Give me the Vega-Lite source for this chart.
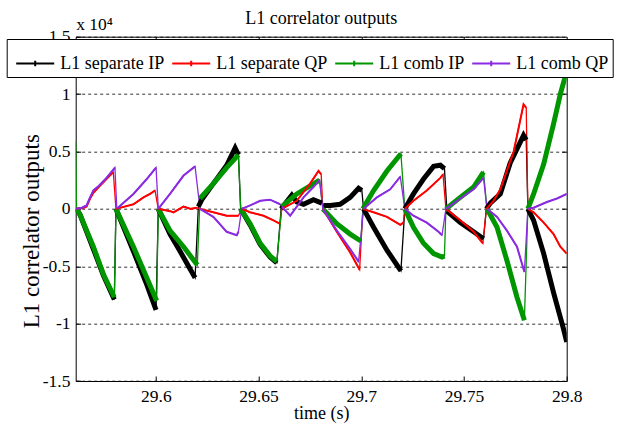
{
  "$schema": "https://vega.github.io/schema/vega-lite/v6.json",
  "width": 491,
  "height": 344.3,
  "autosize": {"type": "none"},
  "padding": {"left": 75.7, "top": 36.7, "right": 51.3, "bottom": 44},
  "background": "white",
  "title": {"text": "L1 correlator outputs", "font": "Liberation Serif", "fontSize": 18, "fontWeight": "normal", "color": "black", "anchor": "middle", "baseline": "alphabetic", "offset": 0, "dy": 26},
  "data": {"values": [
    {"series": "L1 separate IP", "seg": 0, "time": 29.5614, "value": 0},
    {"series": "L1 separate IP", "seg": 0, "time": 29.5631, "value": -0.05},
    {"series": "L1 separate IP", "seg": 0, "time": 29.5696, "value": -0.35},
    {"series": "L1 separate IP", "seg": 0, "time": 29.5745, "value": -0.58},
    {"series": "L1 separate IP", "seg": 0, "time": 29.5798, "value": -0.79},
    {"series": "L1 separate IP", "seg": 1, "time": 29.5806, "value": 0},
    {"series": "L1 separate IP", "seg": 1, "time": 29.5891, "value": -0.37},
    {"series": "L1 separate IP", "seg": 1, "time": 29.5956, "value": -0.66},
    {"series": "L1 separate IP", "seg": 1, "time": 29.6001, "value": -0.88},
    {"series": "L1 separate IP", "seg": 2, "time": 29.6012, "value": 0},
    {"series": "L1 separate IP", "seg": 2, "time": 29.6069, "value": -0.22},
    {"series": "L1 separate IP", "seg": 2, "time": 29.6118, "value": -0.37},
    {"series": "L1 separate IP", "seg": 2, "time": 29.6191, "value": -0.6},
    {"series": "L1 separate IP", "seg": 3, "time": 29.6207, "value": 0.02},
    {"series": "L1 separate IP", "seg": 3, "time": 29.6224, "value": 0.08},
    {"series": "L1 separate IP", "seg": 3, "time": 29.628, "value": 0.22},
    {"series": "L1 separate IP", "seg": 3, "time": 29.6345, "value": 0.38},
    {"series": "L1 separate IP", "seg": 3, "time": 29.6386, "value": 0.53},
    {"series": "L1 separate IP", "seg": 3, "time": 29.6402, "value": 0.47},
    {"series": "L1 separate IP", "seg": 4, "time": 29.6413, "value": 0},
    {"series": "L1 separate IP", "seg": 4, "time": 29.6459, "value": -0.14},
    {"series": "L1 separate IP", "seg": 4, "time": 29.6508, "value": -0.31},
    {"series": "L1 separate IP", "seg": 4, "time": 29.6556, "value": -0.42},
    {"series": "L1 separate IP", "seg": 4, "time": 29.6589, "value": -0.47},
    {"series": "L1 separate IP", "seg": 5, "time": 29.661, "value": 0},
    {"series": "L1 separate IP", "seg": 5, "time": 29.6662, "value": 0.12},
    {"series": "L1 separate IP", "seg": 5, "time": 29.6686, "value": 0.06},
    {"series": "L1 separate IP", "seg": 5, "time": 29.6719, "value": 0.04},
    {"series": "L1 separate IP", "seg": 5, "time": 29.6767, "value": 0.08},
    {"series": "L1 separate IP", "seg": 5, "time": 29.6808, "value": 0.05},
    {"series": "L1 separate IP", "seg": 6, "time": 29.6816, "value": 0.03},
    {"series": "L1 separate IP", "seg": 6, "time": 29.6849, "value": 0.03},
    {"series": "L1 separate IP", "seg": 6, "time": 29.6897, "value": 0.04},
    {"series": "L1 separate IP", "seg": 6, "time": 29.6946, "value": 0.1},
    {"series": "L1 separate IP", "seg": 6, "time": 29.6987, "value": 0.18},
    {"series": "L1 separate IP", "seg": 6, "time": 29.7003, "value": 0.16},
    {"series": "L1 separate IP", "seg": 7, "time": 29.7011, "value": 0},
    {"series": "L1 separate IP", "seg": 7, "time": 29.706, "value": -0.16},
    {"series": "L1 separate IP", "seg": 7, "time": 29.7125, "value": -0.36},
    {"series": "L1 separate IP", "seg": 7, "time": 29.7193, "value": -0.54},
    {"series": "L1 separate IP", "seg": 8, "time": 29.7212, "value": 0},
    {"series": "L1 separate IP", "seg": 8, "time": 29.7254, "value": 0.13},
    {"series": "L1 separate IP", "seg": 8, "time": 29.7303, "value": 0.26},
    {"series": "L1 separate IP", "seg": 8, "time": 29.7352, "value": 0.37},
    {"series": "L1 separate IP", "seg": 8, "time": 29.7385, "value": 0.38},
    {"series": "L1 separate IP", "seg": 8, "time": 29.7405, "value": 0.35},
    {"series": "L1 separate IP", "seg": 9, "time": 29.7417, "value": -0.02},
    {"series": "L1 separate IP", "seg": 9, "time": 29.7482, "value": -0.12},
    {"series": "L1 separate IP", "seg": 9, "time": 29.7547, "value": -0.2},
    {"series": "L1 separate IP", "seg": 9, "time": 29.7595, "value": -0.26},
    {"series": "L1 separate IP", "seg": 10, "time": 29.7609, "value": 0},
    {"series": "L1 separate IP", "seg": 10, "time": 29.7628, "value": 0.05},
    {"series": "L1 separate IP", "seg": 10, "time": 29.7677, "value": 0.13},
    {"series": "L1 separate IP", "seg": 10, "time": 29.7725, "value": 0.4},
    {"series": "L1 separate IP", "seg": 10, "time": 29.779, "value": 0.64},
    {"series": "L1 separate IP", "seg": 10, "time": 29.7803, "value": 0.6},
    {"series": "L1 separate IP", "seg": 11, "time": 29.7811, "value": 0},
    {"series": "L1 separate IP", "seg": 11, "time": 29.7839, "value": -0.1},
    {"series": "L1 separate IP", "seg": 11, "time": 29.7888, "value": -0.39},
    {"series": "L1 separate IP", "seg": 11, "time": 29.7936, "value": -0.73},
    {"series": "L1 separate IP", "seg": 11, "time": 29.7985, "value": -1.05},
    {"series": "L1 separate IP", "seg": 11, "time": 29.8, "value": -1.16},

    {"series": "L1 separate QP", "seg": 0, "time": 29.561, "value": 0},
    {"series": "L1 separate QP", "seg": 0, "time": 29.565, "value": 0.01},
    {"series": "L1 separate QP", "seg": 0, "time": 29.5663, "value": 0.02},
    {"series": "L1 separate QP", "seg": 0, "time": 29.568, "value": 0.09},
    {"series": "L1 separate QP", "seg": 0, "time": 29.5696, "value": 0.14},
    {"series": "L1 separate QP", "seg": 0, "time": 29.5722, "value": 0.19},
    {"series": "L1 separate QP", "seg": 0, "time": 29.5755, "value": 0.25},
    {"series": "L1 separate QP", "seg": 0, "time": 29.5793, "value": 0.32},
    {"series": "L1 separate QP", "seg": 1, "time": 29.5806, "value": 0},
    {"series": "L1 separate QP", "seg": 1, "time": 29.5891, "value": 0.04},
    {"series": "L1 separate QP", "seg": 1, "time": 29.594, "value": 0.1},
    {"series": "L1 separate QP", "seg": 1, "time": 29.5972, "value": 0.13},
    {"series": "L1 separate QP", "seg": 1, "time": 29.5996, "value": 0.16},
    {"series": "L1 separate QP", "seg": 2, "time": 29.6012, "value": 0},
    {"series": "L1 separate QP", "seg": 2, "time": 29.6069, "value": -0.02},
    {"series": "L1 separate QP", "seg": 2, "time": 29.6086, "value": -0.03},
    {"series": "L1 separate QP", "seg": 2, "time": 29.6135, "value": 0.02},
    {"series": "L1 separate QP", "seg": 2, "time": 29.617, "value": 0.0},
    {"series": "L1 separate QP", "seg": 2, "time": 29.6199, "value": 0.01},
    {"series": "L1 separate QP", "seg": 3, "time": 29.6215, "value": 0},
    {"series": "L1 separate QP", "seg": 3, "time": 29.628, "value": -0.03},
    {"series": "L1 separate QP", "seg": 3, "time": 29.6345, "value": -0.06},
    {"series": "L1 separate QP", "seg": 3, "time": 29.6402, "value": -0.06},
    {"series": "L1 separate QP", "seg": 4, "time": 29.6418, "value": 0},
    {"series": "L1 separate QP", "seg": 4, "time": 29.6459, "value": -0.03},
    {"series": "L1 separate QP", "seg": 4, "time": 29.6524, "value": -0.06},
    {"series": "L1 separate QP", "seg": 4, "time": 29.6573, "value": -0.1},
    {"series": "L1 separate QP", "seg": 4, "time": 29.6605, "value": -0.13},
    {"series": "L1 separate QP", "seg": 5, "time": 29.6613, "value": 0},
    {"series": "L1 separate QP", "seg": 5, "time": 29.6686, "value": 0.07},
    {"series": "L1 separate QP", "seg": 5, "time": 29.6751, "value": 0.22},
    {"series": "L1 separate QP", "seg": 5, "time": 29.6792, "value": 0.33},
    {"series": "L1 separate QP", "seg": 5, "time": 29.6805, "value": 0.3},
    {"series": "L1 separate QP", "seg": 6, "time": 29.6813, "value": 0},
    {"series": "L1 separate QP", "seg": 6, "time": 29.6881, "value": -0.2},
    {"series": "L1 separate QP", "seg": 6, "time": 29.6946, "value": -0.38},
    {"series": "L1 separate QP", "seg": 6, "time": 29.6992, "value": -0.53},
    {"series": "L1 separate QP", "seg": 7, "time": 29.7008, "value": 0},
    {"series": "L1 separate QP", "seg": 7, "time": 29.706, "value": -0.03},
    {"series": "L1 separate QP", "seg": 7, "time": 29.7125, "value": -0.07},
    {"series": "L1 separate QP", "seg": 7, "time": 29.719, "value": -0.14},
    {"series": "L1 separate QP", "seg": 7, "time": 29.7205, "value": -0.12},
    {"series": "L1 separate QP", "seg": 8, "time": 29.7212, "value": 0},
    {"series": "L1 separate QP", "seg": 8, "time": 29.7254, "value": 0.07},
    {"series": "L1 separate QP", "seg": 8, "time": 29.7319, "value": 0.16},
    {"series": "L1 separate QP", "seg": 8, "time": 29.7385, "value": 0.27},
    {"series": "L1 separate QP", "seg": 8, "time": 29.7398, "value": 0.3},
    {"series": "L1 separate QP", "seg": 9, "time": 29.7412, "value": 0},
    {"series": "L1 separate QP", "seg": 9, "time": 29.7482, "value": -0.1},
    {"series": "L1 separate QP", "seg": 9, "time": 29.7547, "value": -0.2},
    {"series": "L1 separate QP", "seg": 9, "time": 29.7592, "value": -0.3},
    {"series": "L1 separate QP", "seg": 10, "time": 29.7609, "value": 0},
    {"series": "L1 separate QP", "seg": 10, "time": 29.7644, "value": 0.07},
    {"series": "L1 separate QP", "seg": 10, "time": 29.7677, "value": 0.17},
    {"series": "L1 separate QP", "seg": 10, "time": 29.7742, "value": 0.5},
    {"series": "L1 separate QP", "seg": 10, "time": 29.779, "value": 0.91},
    {"series": "L1 separate QP", "seg": 10, "time": 29.7803, "value": 0.88},
    {"series": "L1 separate QP", "seg": 11, "time": 29.7811, "value": 0},
    {"series": "L1 separate QP", "seg": 11, "time": 29.7839, "value": -0.03},
    {"series": "L1 separate QP", "seg": 11, "time": 29.7888, "value": -0.12},
    {"series": "L1 separate QP", "seg": 11, "time": 29.7936, "value": -0.22},
    {"series": "L1 separate QP", "seg": 11, "time": 29.7969, "value": -0.33},
    {"series": "L1 separate QP", "seg": 11, "time": 29.8, "value": -0.39},

    {"series": "L1 comb IP", "seg": -1, "time": 29.561, "value": 0.59},
    {"series": "L1 comb IP", "seg": 0, "time": 29.5614, "value": 0},
    {"series": "L1 comb IP", "seg": 0, "time": 29.5631, "value": -0.05},
    {"series": "L1 comb IP", "seg": 0, "time": 29.5696, "value": -0.33},
    {"series": "L1 comb IP", "seg": 0, "time": 29.5745, "value": -0.57},
    {"series": "L1 comb IP", "seg": 0, "time": 29.5798, "value": -0.77},
    {"series": "L1 comb IP", "seg": 1, "time": 29.5806, "value": 0},
    {"series": "L1 comb IP", "seg": 1, "time": 29.5891, "value": -0.33},
    {"series": "L1 comb IP", "seg": 1, "time": 29.5956, "value": -0.6},
    {"series": "L1 comb IP", "seg": 1, "time": 29.6004, "value": -0.8},
    {"series": "L1 comb IP", "seg": 2, "time": 29.6012, "value": 0},
    {"series": "L1 comb IP", "seg": 2, "time": 29.6069, "value": -0.19},
    {"series": "L1 comb IP", "seg": 2, "time": 29.6135, "value": -0.33},
    {"series": "L1 comb IP", "seg": 2, "time": 29.6202, "value": -0.49},
    {"series": "L1 comb IP", "seg": 3, "time": 29.6215, "value": 0.09},
    {"series": "L1 comb IP", "seg": 3, "time": 29.628, "value": 0.22},
    {"series": "L1 comb IP", "seg": 3, "time": 29.6345, "value": 0.36},
    {"series": "L1 comb IP", "seg": 3, "time": 29.6402, "value": 0.47},
    {"series": "L1 comb IP", "seg": 4, "time": 29.6413, "value": 0},
    {"series": "L1 comb IP", "seg": 4, "time": 29.6459, "value": -0.13},
    {"series": "L1 comb IP", "seg": 4, "time": 29.6508, "value": -0.3},
    {"series": "L1 comb IP", "seg": 4, "time": 29.6556, "value": -0.41},
    {"series": "L1 comb IP", "seg": 4, "time": 29.6589, "value": -0.46},
    {"series": "L1 comb IP", "seg": 5, "time": 29.6613, "value": 0.02},
    {"series": "L1 comb IP", "seg": 5, "time": 29.6686, "value": 0.13},
    {"series": "L1 comb IP", "seg": 5, "time": 29.6751, "value": 0.2},
    {"series": "L1 comb IP", "seg": 5, "time": 29.6797, "value": 0.25},
    {"series": "L1 comb IP", "seg": 6, "time": 29.6813, "value": 0},
    {"series": "L1 comb IP", "seg": 6, "time": 29.6881, "value": -0.13},
    {"series": "L1 comb IP", "seg": 6, "time": 29.6946, "value": -0.22},
    {"series": "L1 comb IP", "seg": 6, "time": 29.6998, "value": -0.28},
    {"series": "L1 comb IP", "seg": 7, "time": 29.7008, "value": 0},
    {"series": "L1 comb IP", "seg": 7, "time": 29.706, "value": 0.16},
    {"series": "L1 comb IP", "seg": 7, "time": 29.7125, "value": 0.33},
    {"series": "L1 comb IP", "seg": 7, "time": 29.7193, "value": 0.48},
    {"series": "L1 comb IP", "seg": 8, "time": 29.7212, "value": 0},
    {"series": "L1 comb IP", "seg": 8, "time": 29.7254, "value": -0.16},
    {"series": "L1 comb IP", "seg": 8, "time": 29.7303, "value": -0.3},
    {"series": "L1 comb IP", "seg": 8, "time": 29.7352, "value": -0.39},
    {"series": "L1 comb IP", "seg": 8, "time": 29.7393, "value": -0.42},
    {"series": "L1 comb IP", "seg": 8, "time": 29.7405, "value": -0.41},
    {"series": "L1 comb IP", "seg": 9, "time": 29.7412, "value": 0},
    {"series": "L1 comb IP", "seg": 9, "time": 29.7482, "value": 0.1},
    {"series": "L1 comb IP", "seg": 9, "time": 29.7547, "value": 0.19},
    {"series": "L1 comb IP", "seg": 9, "time": 29.7595, "value": 0.32},
    {"series": "L1 comb IP", "seg": 10, "time": 29.7612, "value": 0},
    {"series": "L1 comb IP", "seg": 10, "time": 29.7661, "value": -0.16},
    {"series": "L1 comb IP", "seg": 10, "time": 29.7709, "value": -0.45},
    {"series": "L1 comb IP", "seg": 10, "time": 29.7758, "value": -0.77},
    {"series": "L1 comb IP", "seg": 10, "time": 29.7794, "value": -0.97},
    {"series": "L1 comb IP", "seg": 11, "time": 29.7811, "value": 0},
    {"series": "L1 comb IP", "seg": 11, "time": 29.7839, "value": 0.13},
    {"series": "L1 comb IP", "seg": 11, "time": 29.7888, "value": 0.39},
    {"series": "L1 comb IP", "seg": 11, "time": 29.7936, "value": 0.74},
    {"series": "L1 comb IP", "seg": 11, "time": 29.7969, "value": 1.0},
    {"series": "L1 comb IP", "seg": 11, "time": 29.8, "value": 1.2},

    {"series": "L1 comb QP", "seg": 0, "time": 29.561, "value": 0},
    {"series": "L1 comb QP", "seg": 0, "time": 29.564, "value": 0.01},
    {"series": "L1 comb QP", "seg": 0, "time": 29.5663, "value": 0.03},
    {"series": "L1 comb QP", "seg": 0, "time": 29.568, "value": 0.1},
    {"series": "L1 comb QP", "seg": 0, "time": 29.5696, "value": 0.16},
    {"series": "L1 comb QP", "seg": 0, "time": 29.5722, "value": 0.2},
    {"series": "L1 comb QP", "seg": 0, "time": 29.5755, "value": 0.26},
    {"series": "L1 comb QP", "seg": 0, "time": 29.5801, "value": 0.36},
    {"series": "L1 comb QP", "seg": 1, "time": 29.581, "value": 0},
    {"series": "L1 comb QP", "seg": 1, "time": 29.5891, "value": 0.13},
    {"series": "L1 comb QP", "seg": 1, "time": 29.5956, "value": 0.26},
    {"series": "L1 comb QP", "seg": 1, "time": 29.6001, "value": 0.36},
    {"series": "L1 comb QP", "seg": 2, "time": 29.6012, "value": 0},
    {"series": "L1 comb QP", "seg": 2, "time": 29.6069, "value": 0.13},
    {"series": "L1 comb QP", "seg": 2, "time": 29.6135, "value": 0.29},
    {"series": "L1 comb QP", "seg": 2, "time": 29.6191, "value": 0.37},
    {"series": "L1 comb QP", "seg": 3, "time": 29.6215, "value": 0},
    {"series": "L1 comb QP", "seg": 3, "time": 29.628, "value": -0.07},
    {"series": "L1 comb QP", "seg": 3, "time": 29.6345, "value": -0.2},
    {"series": "L1 comb QP", "seg": 3, "time": 29.6394, "value": -0.23},
    {"series": "L1 comb QP", "seg": 3, "time": 29.6402, "value": -0.2},
    {"series": "L1 comb QP", "seg": 4, "time": 29.6418, "value": 0},
    {"series": "L1 comb QP", "seg": 4, "time": 29.6459, "value": 0.03},
    {"series": "L1 comb QP", "seg": 4, "time": 29.6508, "value": 0.07},
    {"series": "L1 comb QP", "seg": 4, "time": 29.6556, "value": 0.08},
    {"series": "L1 comb QP", "seg": 4, "time": 29.6605, "value": 0.04},
    {"series": "L1 comb QP", "seg": 5, "time": 29.6613, "value": 0.02},
    {"series": "L1 comb QP", "seg": 5, "time": 29.6654, "value": -0.06},
    {"series": "L1 comb QP", "seg": 5, "time": 29.6719, "value": 0.1},
    {"series": "L1 comb QP", "seg": 5, "time": 29.6767, "value": 0.19},
    {"series": "L1 comb QP", "seg": 5, "time": 29.6797, "value": 0.25},
    {"series": "L1 comb QP", "seg": 6, "time": 29.6813, "value": 0},
    {"series": "L1 comb QP", "seg": 6, "time": 29.6881, "value": -0.19},
    {"series": "L1 comb QP", "seg": 6, "time": 29.6946, "value": -0.35},
    {"series": "L1 comb QP", "seg": 6, "time": 29.6987, "value": -0.46},
    {"series": "L1 comb QP", "seg": 7, "time": 29.7011, "value": 0},
    {"series": "L1 comb QP", "seg": 7, "time": 29.7076, "value": 0.1},
    {"series": "L1 comb QP", "seg": 7, "time": 29.7141, "value": 0.17},
    {"series": "L1 comb QP", "seg": 7, "time": 29.719, "value": 0.28},
    {"series": "L1 comb QP", "seg": 8, "time": 29.7212, "value": 0},
    {"series": "L1 comb QP", "seg": 8, "time": 29.7254, "value": -0.06},
    {"series": "L1 comb QP", "seg": 8, "time": 29.7319, "value": -0.12},
    {"series": "L1 comb QP", "seg": 8, "time": 29.7376, "value": -0.2},
    {"series": "L1 comb QP", "seg": 8, "time": 29.7393, "value": -0.23},
    {"series": "L1 comb QP", "seg": 9, "time": 29.7412, "value": 0},
    {"series": "L1 comb QP", "seg": 9, "time": 29.7482, "value": 0.09},
    {"series": "L1 comb QP", "seg": 9, "time": 29.7547, "value": 0.17},
    {"series": "L1 comb QP", "seg": 9, "time": 29.7595, "value": 0.27},
    {"series": "L1 comb QP", "seg": 10, "time": 29.7612, "value": 0},
    {"series": "L1 comb QP", "seg": 10, "time": 29.7661, "value": -0.07},
    {"series": "L1 comb QP", "seg": 10, "time": 29.7709, "value": -0.19},
    {"series": "L1 comb QP", "seg": 10, "time": 29.7758, "value": -0.33},
    {"series": "L1 comb QP", "seg": 10, "time": 29.7794, "value": -0.55},
    {"series": "L1 comb QP", "seg": 11, "time": 29.7811, "value": 0},
    {"series": "L1 comb QP", "seg": 11, "time": 29.7839, "value": 0.01},
    {"series": "L1 comb QP", "seg": 11, "time": 29.7904, "value": 0.06},
    {"series": "L1 comb QP", "seg": 11, "time": 29.7953, "value": 0.09},
    {"series": "L1 comb QP", "seg": 11, "time": 29.8, "value": 0.13}
  ]},
  "layer": [
    {
      "mark": {"type": "line", "strokeWidth": 1.3, "clip": true},
      "encoding": {
        "x": {"field": "time", "type": "quantitative", "scale": {"domain": [29.561, 29.8], "nice": false, "zero": false},
          "axis": {"orient": "bottom", "values": [29.6, 29.65, 29.7, 29.75, 29.8], "labelExpr": "toString(datum.value)", "tickSize": -5, "labelPadding": 11.8, "labelFlush": false, "labelOverlap": false, "grid": false, "title": "time (s)", "titleY": 37, "titleBaseline": "alphabetic", "titleFontSize": 18}},
        "y": {"field": "value", "type": "quantitative", "scale": {"domain": [-1.5, 1.5], "nice": false, "zero": false},
          "axis": {"orient": "left", "values": [-1.5, -1, -0.5, 0, 0.5, 1, 1.5], "labelExpr": "toString(datum.value)", "tickSize": -5, "labelPadding": 10.7, "labelFlush": false, "labelOverlap": false, "grid": true, "gridDash": [3, 3], "gridColor": "#333333", "gridWidth": 1, "gridOpacity": 1, "title": "L1 correlator outputs", "titleFontSize": 23, "titleX": -44, "titleY": 194, "titleAngle": -90, "titleAlign": "center", "titleBaseline": "middle"}},
        "color": {"field": "series", "type": "nominal",
          "scale": {"domain": ["L1 separate IP", "L1 separate QP", "L1 comb IP", "L1 comb QP"], "range": ["#000000", "#ff0000", "#009600", "#8a2be2"]},
          "legend": {"orient": "none", "legendX": -69, "legendY": 2.3, "direction": "horizontal", "columns": 4, "title": null}}
      }
    },
    {
      "transform": [{"filter": {"field": "series", "oneOf": ["L1 separate IP", "L1 comb IP"]}}],
      "mark": {"type": "line", "strokeWidth": 5, "clip": true},
      "encoding": {
        "x": {"field": "time", "type": "quantitative", "axis": null},
        "y": {"field": "value", "type": "quantitative", "axis": null},
        "color": {"field": "series", "type": "nominal"},
        "detail": {"field": "seg", "type": "nominal"}
      }
    },
    {
      "transform": [{"filter": {"field": "series", "oneOf": ["L1 separate QP", "L1 comb QP"]}}],
      "mark": {"type": "line", "strokeWidth": 2, "clip": true},
      "encoding": {
        "x": {"field": "time", "type": "quantitative", "axis": null},
        "y": {"field": "value", "type": "quantitative", "axis": null},
        "color": {"field": "series", "type": "nominal"},
        "detail": {"field": "seg", "type": "nominal"}
      }
    },
    {
      "mark": {"type": "point", "opacity": 0},
      "encoding": {
        "x": {"field": "time", "type": "quantitative",
          "axis": {"orient": "top", "values": [29.6, 29.65, 29.7, 29.75], "labels": false, "ticks": true, "tickSize": -5, "grid": false, "domain": true, "title": "x 10⁴", "titleAnchor": "start", "titleAlign": "left", "titleX": 0, "titleY": -7, "titleBaseline": "alphabetic", "titleFontSize": 17.5}},
        "y": {"field": "value", "type": "quantitative",
          "axis": {"orient": "right", "values": [-1, -0.5, 0, 0.5, 1], "labels": false, "ticks": true, "tickSize": -5, "grid": false, "domain": true, "title": null}}
      }
    }
  ],
  "resolve": {"axis": {"x": "independent", "y": "independent"}},
  "config": {
    "font": "Liberation Serif",
    "view": {"stroke": null},
    "axis": {"labelFont": "Liberation Serif", "titleFont": "Liberation Serif", "labelFontSize": 17.5, "labelColor": "black", "titleColor": "black", "titleFontWeight": "normal", "domainColor": "black", "domainWidth": 1, "tickColor": "black", "tickWidth": 1},
    "legend": {"fillColor": "white", "strokeColor": "black", "padding": 4.5, "symbolType": "M-1,0H1M0,-0.15V0.15M-0.15,0H0.15", "symbolSize": 1444, "symbolStrokeWidth": 2, "symbolOffset": 4, "labelFont": "Liberation Serif", "labelFontSize": 18, "labelColor": "black", "labelOffset": 5, "columnPadding": 3, "labelLimit": 300, "cornerRadius": 0}
  }
}
